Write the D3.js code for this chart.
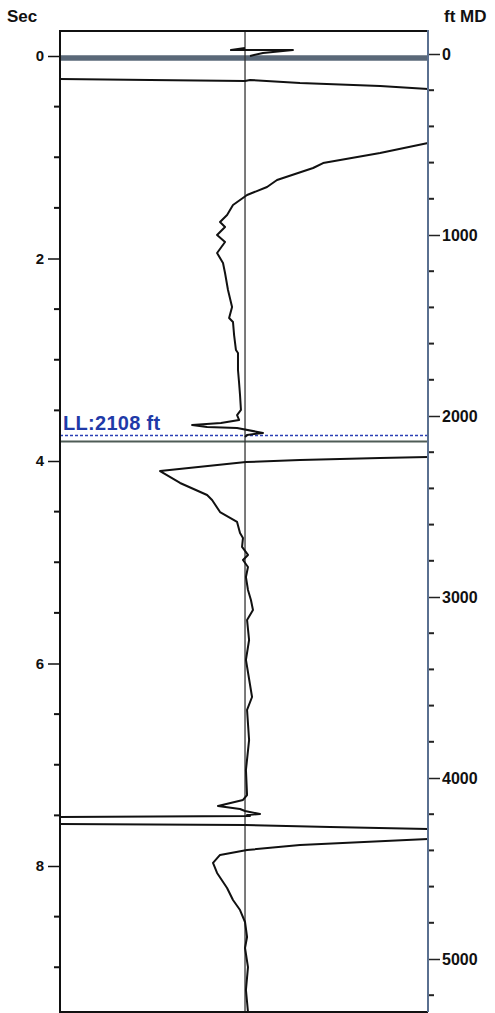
<!DOCTYPE html>
<html>
<head>
<meta charset="utf-8">
<script src="https://cdn.jsdelivr.net/npm/d3@7"></script>
<style>
  body { margin: 0; background: #fff; overflow: hidden; }
  svg { display: block; }
  text { font-family: "Liberation Sans", Arial, sans-serif; font-weight: bold; }
</style>
</head>
<body>
<div id="chart"></div>
<script>
var svgWidth = 495;
var svgHeight = 1013;

// ---- data ----
// trace pieces: [time (sec), amplitude (-1..1)]
var traceTop = [[-0.079, 0], [-0.059, -0.076], [-0.059, 0.259], [-0.030, 0.097], [0, 0.027]];
var traceShallow = [[0.227, -1], [0.237, -0.514], [0.247, 0], [0.237, 0.027], [0.267, 0.297], [0.296, 0.730], [0.326, 0.989]];
var traceUpper = [
  [0.859, 0.989], [0.958, 0.730], [1.057, 0.422], [1.106, 0.368], [1.225, 0.173], [1.294, 0.119],
  [1.373, 0.011], [1.472, -0.065], [1.570, -0.097], [1.640, -0.135], [1.689, -0.108], [1.768, -0.151],
  [1.837, -0.108], [1.946, -0.151], [2.044, -0.119], [2.143, -0.108], [2.311, -0.092], [2.479, -0.070],
  [2.588, -0.086], [2.627, -0.065], [2.756, -0.059], [2.904, -0.049], [2.933, -0.038], [3.101, -0.038],
  [3.230, -0.032], [3.348, -0.027], [3.496, -0.022], [3.546, -0.043], [3.595, -0.032], [3.625, -0.130],
  [3.644, -0.286], [3.664, -0.205], [3.674, -0.043], [3.723, 0.097], [3.743, 0.011], [3.763, 0]
];
var traceMiddle = [
  [3.960, 0.989], [3.970, 0.730], [3.990, 0.297], [4.010, 0.005], [4.099, -0.459], [4.217, -0.351],
  [4.336, -0.205], [4.385, -0.178], [4.504, -0.135], [4.602, -0.043], [4.711, -0.027], [4.760, -0.011],
  [4.849, -0.016], [4.928, 0.016], [4.978, -0.011], [5.047, 0.016], [5.146, 0.005], [5.274, 0.016],
  [5.373, 0.032], [5.472, 0.043], [5.570, 0.011], [5.768, 0.022], [5.965, 0.005], [6.331, 0.038],
  [6.459, 0.011], [6.756, 0.022], [7.052, 0.005], [7.299, 0.011], [7.348, -0.011], [7.407, -0.146],
  [7.437, -0.027], [7.457, 0], [7.486, 0.081], [7.496, 0.011], [7.506, 0.027], [7.516, -1]
];
var traceWrap = [[7.585, -1], [7.595, 0], [7.615, 0.459], [7.635, 0.989]];
var traceLower = [
  [7.733, 0.989], [7.793, 0.297], [7.842, 0.011], [7.891, -0.135], [7.970, -0.173], [8.069, -0.151],
  [8.217, -0.097], [8.336, -0.065], [8.435, -0.027], [8.553, 0], [8.701, 0.011], [8.810, 0],
  [8.998, 0.016], [9.225, 0.005], [9.442, 0.016]
];

var secTicks = [0, 2, 4, 6, 8];
var ftTicks = [0, 1000, 2000, 3000, 4000, 5000];
var llDepth = 2108;          // ft MD
var zeroMarker = 0.02;       // sec
var grayMarker = 3.807;      // sec

// ---- layout ----
var plotLeft = 60, plotRight = 428, plotTop = 31, plotBottom = 1012;

var svg = d3.select("#chart")
  .append("svg")
  .attr("width", svgWidth)
  .attr("height", svgHeight);

var xScale = d3.scaleLinear().domain([-1, 0.989]).range([plotLeft, plotRight]);
var tScale = d3.scaleLinear().domain([0, 8]).range([56, 866]);
var ftScale = d3.scaleLinear().domain([0, 5000]).range([54, 959]);

// horizontal marker lines
svg.append("line")
  .attr("x1", plotLeft).attr("x2", plotRight)
  .attr("y1", tScale(zeroMarker)).attr("y2", tScale(zeroMarker))
  .attr("stroke", "#5a6878")
  .attr("stroke-width", 5.5);

svg.append("line")
  .attr("x1", plotLeft).attr("x2", plotRight)
  .attr("y1", tScale(grayMarker)).attr("y2", tScale(grayMarker))
  .attr("stroke", "#4e5c56")
  .attr("stroke-width", 2);

svg.append("line")
  .attr("x1", plotLeft).attr("x2", plotRight)
  .attr("y1", ftScale(llDepth)).attr("y2", ftScale(llDepth))
  .attr("stroke", "#2a3fb5")
  .attr("stroke-width", 1.6)
  .attr("stroke-dasharray", "3,2");

svg.append("text")
  .attr("x", plotLeft + 3)
  .attr("y", ftScale(llDepth) - 6)
  .attr("fill", "#1f3aa8")
  .attr("font-size", 20)
  .attr("letter-spacing", 0.3)
  .text("LL:2108 ft");

// center line
svg.append("path")
  .attr("d", `M${xScale(0)},${plotTop}V${plotBottom}`)
  .attr("stroke", "#333")
  .attr("stroke-width", 1.3);

// the trace
var line = d3.line()
  .x(d => xScale(d[1]))
  .y(d => tScale(d[0]));

[traceTop, traceShallow, traceUpper, traceMiddle, traceWrap, traceLower].forEach(function(seg) {
  svg.append("path")
    .datum(seg)
    .attr("d", line)
    .attr("fill", "none")
    .attr("stroke", "#111")
    .attr("stroke-width", 2)
    .attr("stroke-linejoin", "round");
});

// frame: top, bottom, left edge (right edge drawn with the ft axis)
svg.append("path")
  .attr("d", `M${plotRight},${plotTop}H${plotLeft}V${plotBottom}H${plotRight}`)
  .attr("fill", "none")
  .attr("stroke", "#111")
  .attr("stroke-width", 2);

// left axis (sec)
var leftAxis = d3.axisLeft(tScale)
  .tickValues(secTicks)
  .tickSize(12)
  .tickPadding(4);
var leftG = svg.append("g")
  .attr("transform", `translate(${plotLeft}, 0)`)
  .call(leftAxis);
leftG.select(".domain").remove();
leftG.selectAll("line").attr("stroke", "#111").attr("stroke-width", 1.5);
leftG.selectAll("text").attr("font-size", 15).attr("fill", "#111").attr("font-family", null);

var secMinor = d3.range(0.5, 9.5, 0.5).filter(v => v % 2 !== 0);
svg.selectAll(".secMinor")
  .data(secMinor)
  .enter()
  .append("line")
  .attr("x1", plotLeft - 6).attr("x2", plotLeft)
  .attr("y1", d => tScale(d)).attr("y2", d => tScale(d))
  .attr("stroke", "#111").attr("stroke-width", 2);

// right axis (ft MD)
var rightAxis = d3.axisRight(ftScale)
  .tickValues(ftTicks)
  .tickFormat(d3.format("d"))
  .tickSize(12)
  .tickPadding(2);
var rightG = svg.append("g")
  .attr("transform", `translate(${plotRight}, 0)`)
  .call(rightAxis);
rightG.select(".domain").remove();
rightG.selectAll("line").attr("stroke", "#222").attr("stroke-width", 1.5);
rightG.selectAll("text").attr("font-size", 16).attr("fill", "#111").attr("font-family", null);

var ftMinor = d3.range(200, 5400, 200).filter(v => v % 1000 !== 0);
svg.selectAll(".ftMinor")
  .data(ftMinor)
  .enter()
  .append("line")
  .attr("x1", plotRight).attr("x2", plotRight + 6)
  .attr("y1", d => ftScale(d)).attr("y2", d => ftScale(d))
  .attr("stroke", "#222").attr("stroke-width", 2);

svg.append("path")
  .attr("d", `M${plotRight},${plotTop - 1}V${plotBottom}`)
  .attr("stroke", "#5a7090")
  .attr("stroke-width", 2);

// axis titles
svg.append("text")
  .attr("x", 7).attr("y", 22)
  .attr("font-size", 17)
  .attr("fill", "#111")
  .text("Sec");

svg.append("text")
  .attr("x", 444).attr("y", 22)
  .attr("font-size", 17)
  .attr("fill", "#111")
  .text("ft MD");
</script>
</body>
</html>
